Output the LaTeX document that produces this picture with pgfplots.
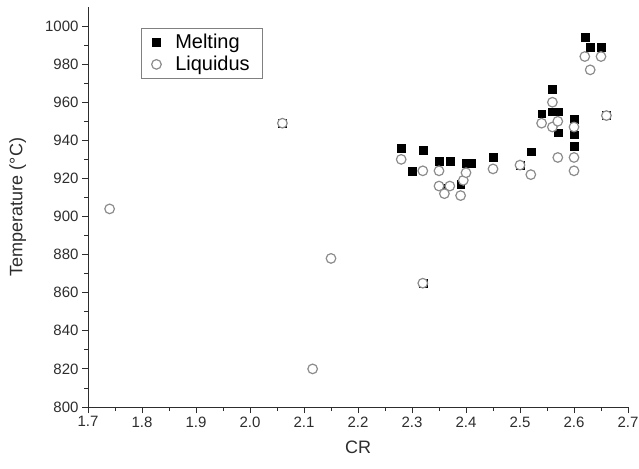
\documentclass[border=0pt]{standalone}
\usepackage{pgfplots}
\pgfplotsset{compat=1.18}
\usepackage{fontspec}
\setmainfont{Liberation Sans}

\begin{document}
\begin{tikzpicture}
\definecolor{liqgray}{RGB}{140,140,140}
\definecolor{axgray}{RGB}{45,45,45}
\begin{axis}[
    name=ax,
    scale only axis, width=540pt, height=400pt,
    xmin=1.7, xmax=2.7, ymin=800, ymax=1010,
    axis x line*=bottom, axis y line*=left,
    axis line style={axgray, line width=0.9pt, -},
    xtick={1.7,1.8,1.9,2.0,2.1,2.2,2.3,2.4,2.5,2.6,2.7},
    ytick={800,820,840,860,880,900,920,940,960,980,1000},
    minor x tick num=1, minor y tick num=1,
    tick align=outside, major tick length=6pt, minor tick length=4pt,
    tick style={axgray, line width=0.9pt},
    xticklabel style={/pgf/number format/.cd, fixed, fixed zerofill, precision=1},
    /pgf/number format/1000 sep={},
    /pgf/number format/assume math mode=true,
    ticklabel style={text=axgray, font=\fontsize{15}{15}\selectfont},
    xlabel={CR}, ylabel={Temperature (°C)},
    label style={text=axgray, font=\fontsize{18}{18}\selectfont},
    xlabel style={at={(axis description cs:0.5,-0.1)}, anchor=center},
    ylabel style={at={(axis description cs:-0.13,0.5)}, anchor=center},
    legend style={at={(0.099,0.947)}, anchor=north west, draw=gray,
        font=\fontsize{20}{22}\selectfont, inner xsep=10pt, inner ysep=4pt,
        row sep=2pt,
        /tikz/every odd column/.append style={column sep=12pt}},
    legend cell align=left,
    clip=false,
]
    % Melting
    \addplot[only marks, mark=square*, mark size=3.9pt, mark options={fill=black, draw=black}]
      table {
        x     y
        2.06  949
        2.28  936
        2.30  924
        2.32  935
        2.32  865
        2.35  929
        2.37  929
        2.36  915
        2.39  917
        2.40  928
        2.41  928
        2.45  931
        2.50  927
        2.52  934
        2.54  954
        2.56  967
        2.56  955
        2.57  955
        2.57  944
        2.60  951
        2.60  943
        2.60  937
        2.62  994
        2.63  989
        2.65  989
        2.66  953
      };
    \addlegendentry{Melting}
    % Liquidus
    \addplot[only marks, mark=*, mark size=4.8pt, mark options={fill=white, draw=liqgray, line width=1.2pt}]
      table {
        x      y
        1.74   904
        2.06   949
        2.116  820
        2.15   878
        2.28   930
        2.32   924
        2.32   865
        2.35   924
        2.35   916
        2.37   916
        2.36   912
        2.39   911
        2.395  919
        2.40   923
        2.45   925
        2.50   927
        2.52   922
        2.54   949
        2.56   960
        2.56   947
        2.57   950
        2.57   931
        2.60   947
        2.60   931
        2.60   924
        2.62   984
        2.63   977
        2.65   984
        2.66   953
      };
    \addlegendentry{Liquidus}
\end{axis}
\pgfresetboundingbox
\path[use as bounding box] ([xshift=-88pt,yshift=-61pt]ax.south west) rectangle ([xshift=11pt,yshift=7pt]ax.north east);
\end{tikzpicture}
\end{document}
